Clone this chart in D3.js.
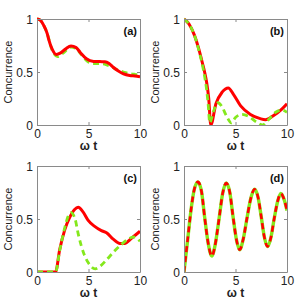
<!DOCTYPE html>
<html lang="en">
<head>
<meta charset="UTF-8">
<script src="https://d3js.org/d3.v7.min.js"></script>
<style>
  body { margin: 0; background: #fff; }
  svg text { font-family: "Liberation Sans", Arial, sans-serif; }
</style>
</head>
<body>
<svg width="301" height="301" id="fig"></svg>
<script>
// panel (a)
var tRedA = [0, 0.3, 0.65, 1.0, 1.13, 1.45, 1.87, 2.3, 2.8, 3.3, 3.8, 4.2, 4.8, 5.5, 6.1, 6.6, 7.0, 7.4, 7.9, 8.4, 9, 9.5, 10];
var redA  = [1, 0.99, 0.94, 0.86, 0.81, 0.72, 0.665, 0.68, 0.72, 0.745, 0.73, 0.685, 0.625, 0.6, 0.598, 0.597, 0.58, 0.545, 0.51, 0.483, 0.467, 0.462, 0.456];
var tGreenA = [0, 0.3, 0.65, 1.0, 1.45, 2.0, 2.5, 3.3, 3.8, 4.3, 4.9, 5.5, 6.2, 6.7, 7.2, 7.8, 8.4, 9, 9.5, 10];
var greenA  = [1, 0.99, 0.94, 0.86, 0.71, 0.645, 0.675, 0.735, 0.72, 0.665, 0.6, 0.58, 0.578, 0.57, 0.55, 0.52, 0.5, 0.485, 0.478, 0.473];

// panel (b)
var tRedB = [0, 0.5, 1.0, 1.4, 1.8, 2.0, 2.2, 2.4, 2.6, 3.1, 3.7, 4.3, 4.8, 5.5, 6.45, 7.4, 7.9, 8.7, 9.5, 10];
var redB  = [1, 0.95, 0.85, 0.73, 0.58, 0.5, 0.4, 0.25, 0, 0.2, 0.31, 0.35, 0.29, 0.18, 0.1, 0.06, 0.05, 0.09, 0.15, 0.2];
var tGreenB = [0, 0.5, 1.0, 1.4, 1.8, 2.0, 2.2, 2.35, 2.5, 2.9, 3.3, 3.7, 4.1, 4.6, 5.0, 5.6, 6.3, 7.0, 7.6, 8.2, 8.9, 9.5, 10];
var greenB  = [1, 0.95, 0.85, 0.72, 0.56, 0.46, 0.33, 0.19, 0.02, 0.14, 0.21, 0.17, 0.09, 0.02, 0.07, 0.1, 0.08, 0.03, 0.0, 0.05, 0.12, 0.14, 0.12];

// panel (c)
var tRedC = [0, 1.8, 2.2, 2.7, 3.15, 3.65, 4.0, 4.45, 4.95, 5.6, 6.25, 6.75, 7.4, 8.05, 8.5, 9.2, 10];
var redC  = [0, 0, 0.21, 0.4, 0.51, 0.59, 0.61, 0.57, 0.49, 0.43, 0.39, 0.37, 0.31, 0.27, 0.27, 0.32, 0.385];
var tGreenC = [0, 1.8, 2.2, 2.7, 3.0, 3.3, 3.7, 4.0, 4.6, 5.1, 5.65, 6.2, 6.8, 7.55, 8.2, 8.85, 9.35, 10];
var greenC  = [0, 0, 0.2, 0.42, 0.52, 0.56, 0.5, 0.36, 0.16, 0.07, 0.03, 0.06, 0.12, 0.2, 0.26, 0.31, 0.33, 0.29];

// panel (d) - both curves coincide
var tD = [0, 0.35, 0.7, 1.0, 1.35, 1.7, 2.0, 2.35, 2.7, 3.05, 3.4, 3.75, 4.1, 4.45, 4.75, 5.1, 5.4, 5.75, 6.1, 6.5, 6.85, 7.2, 7.5, 7.8, 8.1, 8.45, 8.75, 9.1, 9.4, 9.7, 10];
var redD = [0, 0.3, 0.6, 0.78, 0.85, 0.76, 0.52, 0.27, 0.15, 0.27, 0.5, 0.74, 0.84, 0.75, 0.53, 0.3, 0.21, 0.31, 0.5, 0.7, 0.78, 0.7, 0.52, 0.33, 0.24, 0.33, 0.5, 0.67, 0.74, 0.69, 0.58];
var greenD = redD.slice();

var xTicks = [0, 5, 10];
var yTicks = [0, 0.5, 1];
var yTickLabels = ["0", "0.5", "1"];
var panelNames = ["(a)", "(b)", "(c)", "(d)"];

var RED = "#ff0000", GREEN = "#84e81c", AXIS = "#8a8a8a";

var panels = [
  {x: 37, y: 19, red: [tRedA, redA], green: [tGreenA, greenA], greenOnTop: false, dashRed: false},
  {x: 184, y: 19, red: [tRedB, redB], green: [tGreenB, greenB], greenOnTop: true, dashRed: false},
  {x: 37, y: 166, red: [tRedC, redC], green: [tGreenC, greenC], greenOnTop: true, dashRed: false},
  {x: 184, y: 166, red: [tD, redD], green: [tD, greenD], greenOnTop: false, dashRed: true}
];
var W = 103, H = 106;

var svg = d3.select('#fig');

function zip(a) { return a[0].map(function(t, i){ return [t, a[1][i]]; }); }

panels.forEach(function(p, idx){
  var g = svg.append('g').attr('transform', 'translate(' + p.x + ',' + p.y + ')');
  var x = d3.scaleLinear().domain([0, 10]).range([0, W]);
  var y = d3.scaleLinear().domain([0, 1]).range([H, 0]);

  var line = d3.line()
    .x(function(d){ return x(d[0]); })
    .y(function(d){ return y(d[1]); })
    .curve(d3.curveMonotoneX);

  g.append('clipPath').attr('id', 'clip' + idx)
    .append('rect').attr('x', 0).attr('y', -2).attr('width', W).attr('height', H + 2);

  var lines = g.append('g').attr('clip-path', 'url(#clip' + idx + ')');

  function drawRed(){
    var path = lines.append('path').datum(zip(p.red))
      .attr('d', line).attr('fill', 'none')
      .attr('stroke', RED).attr('stroke-width', 3);
    if (p.dashRed) path.attr('stroke-dasharray', '6,4').attr('stroke-width', 2.6);
  }
  function drawGreen(){
    var path = lines.append('path').datum(zip(p.green))
      .attr('d', line).attr('fill', 'none')
      .attr('stroke', GREEN).attr('stroke-width', 2.8);
    if (p.dashRed) path.attr('stroke-width', 3.4);
    else path.attr('stroke-dasharray', '6,4');
  }
  if (p.greenOnTop) { drawRed(); drawGreen(); }
  else { drawGreen(); drawRed(); }

  // axes with inward ticks
  var axB = g.append('g').attr('transform', 'translate(0,' + H + ')')
    .call(d3.axisBottom(x).tickValues(xTicks).tickSizeInner(-3).tickSizeOuter(0).tickPadding(4).tickFormat(d3.format('d')));
  var axL = g.append('g')
    .call(d3.axisLeft(y).tickValues(yTicks).tickSizeInner(-3).tickSizeOuter(0).tickPadding(4)
      .tickFormat(function(d, i){ return yTickLabels[i]; }));
  var axT = g.append('g')
    .call(d3.axisTop(x).tickValues(xTicks).tickSizeInner(-3).tickSizeOuter(0).tickFormat(''));
  var axR = g.append('g').attr('transform', 'translate(' + W + ',0)')
    .call(d3.axisRight(y).tickValues(yTicks).tickSizeInner(-3).tickSizeOuter(0).tickFormat(''));

  [axB, axL, axT, axR].forEach(function(a){
    a.select('.domain').attr('stroke', AXIS);
    a.selectAll('.tick line').attr('stroke', AXIS);
    a.selectAll('.tick text').attr('fill', '#222').style('font-size', '12px');
  });
  axL.selectAll('.tick text').attr('dy', '0.36em');

  g.append('text').attr('x', W - 3).attr('y', 16)
    .attr('text-anchor', 'end').style('font-size', '11px').style('font-weight', 'bold')
    .attr('fill', '#111').text(panelNames[idx]);

  g.append('text')
    .attr('transform', 'translate(' + (-25) + ',' + (H / 2) + ') rotate(-90)')
    .attr('text-anchor', 'middle').style('font-size', '11px').attr('fill', '#222')
    .text('Concurrence');

  g.append('text').attr('x', W / 2).attr('y', H + 25)
    .attr('text-anchor', 'middle').style('font-size', '12px').style('font-weight', 'bold')
    .attr('fill', '#222').text('\u03C9 t');
});
</script>
</body>
</html>
